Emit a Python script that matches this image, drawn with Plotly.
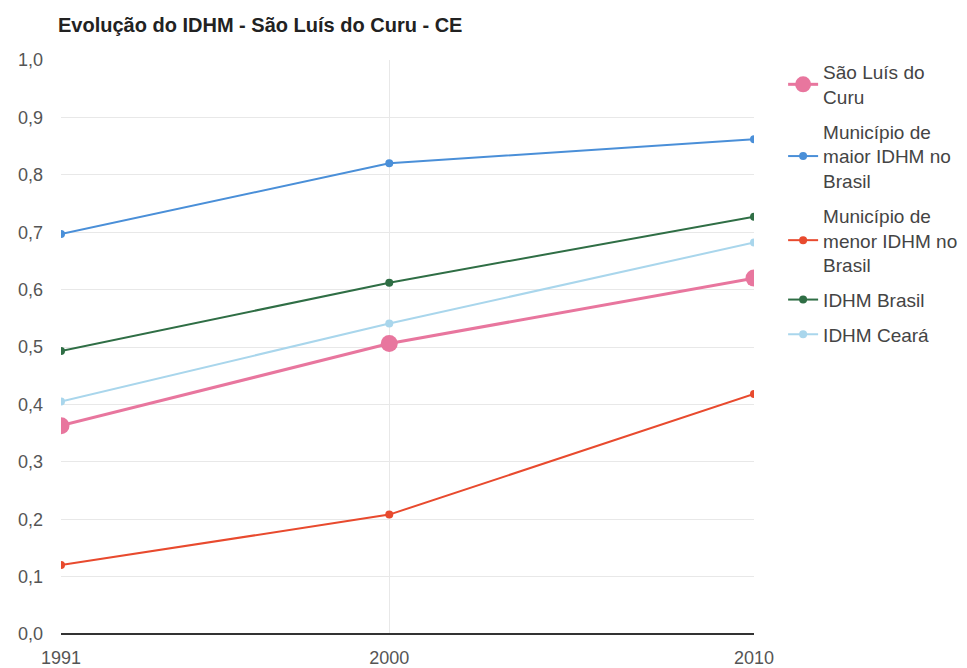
import plotly.graph_objects as go

years = [1991, 2000, 2010]
sao_luis = [0.363, 0.506, 0.620]
maior = [0.697, 0.820, 0.862]
menor = [0.120, 0.208, 0.418]
brasil = [0.493, 0.612, 0.727]
ceara = [0.405, 0.541, 0.682]

series = [
    ("São Luís do<br>Curu", sao_luis, "#e8769e", 17, 3),
    ("Município de<br>maior IDHM no<br>Brasil", maior, "#4a8fd8", 8, 2),
    ("Município de<br>menor IDHM no<br>Brasil", menor, "#e84a2e", 8, 2),
    ("IDHM Brasil", brasil, "#2f6e45", 8, 2),
    ("IDHM Ceará", ceara, "#a9d6ec", 8, 2),
]

fig = go.Figure()
for i, (name, vals, color, msize, lw) in enumerate(series):
    fig.add_trace(go.Scatter(
        x=years, y=vals, name=name, mode="lines+markers",
        legendgroup=f"g{i}",
        line=dict(color=color, width=lw),
        marker=dict(color=color, size=msize),
    ))

fig.update_layout(
    width=967, height=668,
    margin=dict(l=53, r=221, t=52, b=42),
    paper_bgcolor="white", plot_bgcolor="white",
    font=dict(family="Arial, Liberation Sans, sans-serif", size=18, color="#555"),
    title=dict(text="<b>Evolução do IDHM - São Luís do Curu - CE</b>",
               xref="container", yref="container",
               x=50/967, xanchor="left", y=1-17/668, yanchor="middle",
               font=dict(size=20, color="#222")),
    legend=dict(x=1.042, xanchor="left", y=1.012, yanchor="top",
                font=dict(size=19, color="#444"), traceorder="grouped",
                tracegroupgap=7, bgcolor="rgba(0,0,0,0)"),
    xaxis=dict(range=[1991, 2010], tickvals=years, ticktext=[str(y) for y in years],
               showgrid=True, gridcolor="#e8e8e8", zeroline=False,
               ticks="", showline=False, ticklabelstandoff=11, automargin=False),
    yaxis=dict(range=[0, 1], tickvals=[i/10 for i in range(11)],
               ticktext=[f"{i/10:.1f}".replace(".", ",") for i in range(11)],
               showgrid=True, gridcolor="#e8e8e8", zeroline=True,
               zerolinecolor="#333", zerolinewidth=2, ticks="",
               ticklabelstandoff=17, automargin=False),
)
fig.write_html("out.html")
